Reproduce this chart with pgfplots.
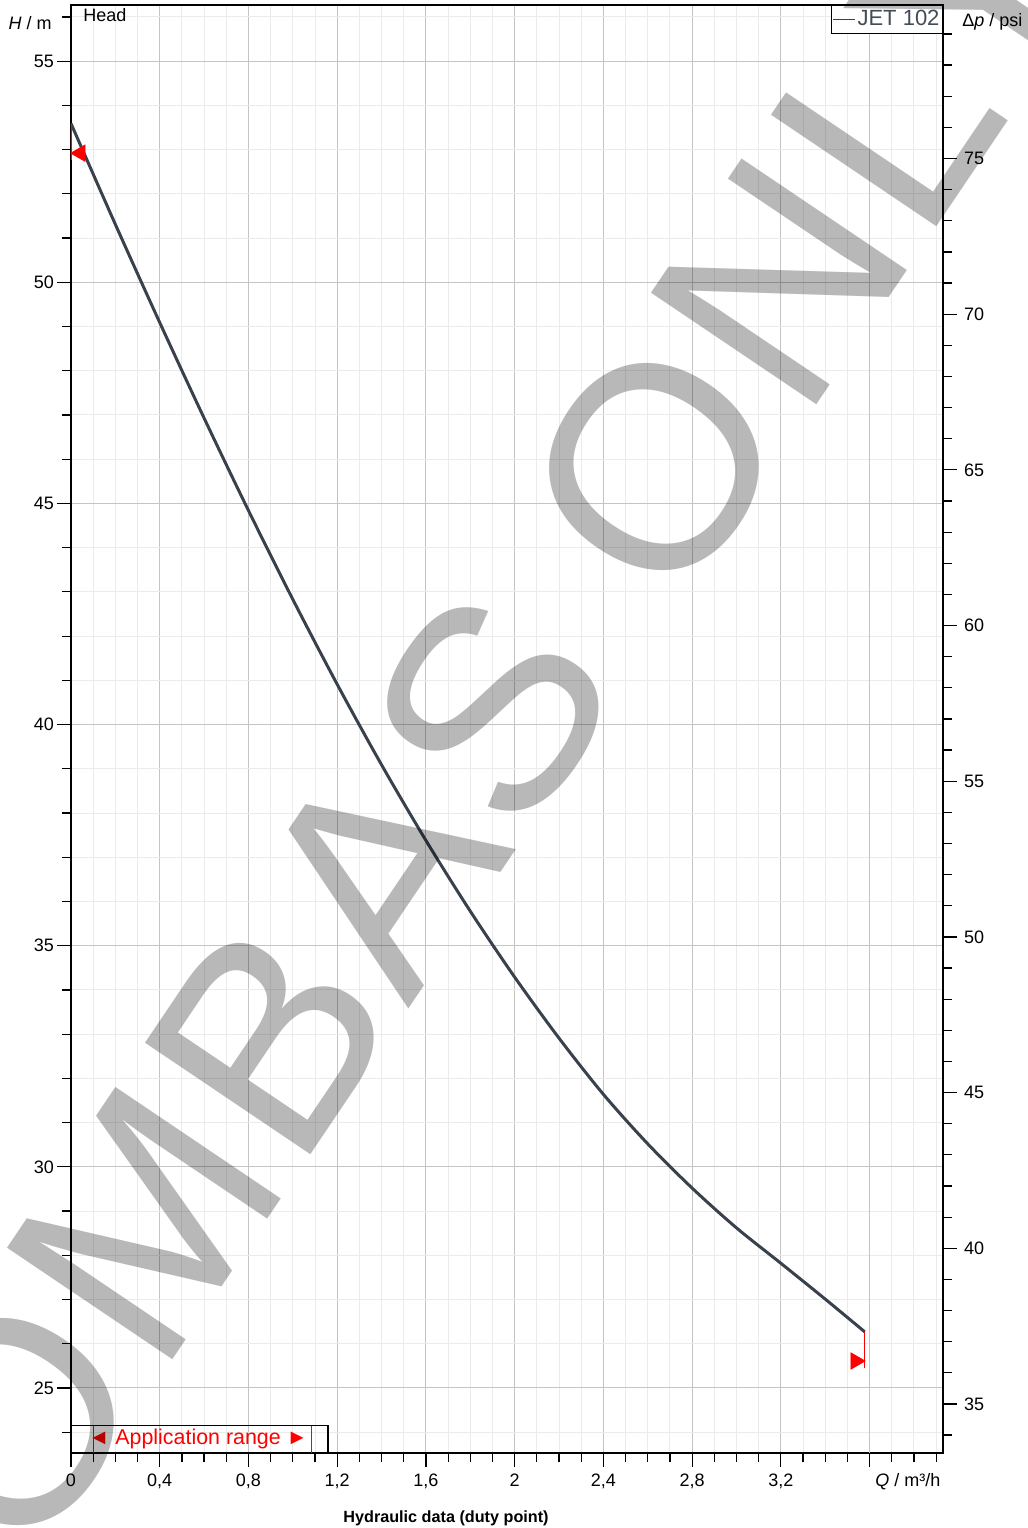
\documentclass[border=0pt]{standalone}
\usepackage{pgfplots}
\pgfplotsset{compat=1.18}
\usepackage{fontspec}
\setmainfont{Liberation Sans}
\newfontfamily\wmfont[LetterSpace=2]{Liberation Sans}
\definecolor{curve}{HTML}{39424C}
\definecolor{legtext}{HTML}{434C56}
\definecolor{majgrid}{HTML}{C4C4C4}
\definecolor{mingrid}{HTML}{EBEBEB}
\newcommand\sm{\fontsize{9}{10.8}\selectfont}
\newcommand\wm{\wmfont\fontsize{145}{145}\selectfont}

% pump curve H(Q)
\pgfplotstableread{
Q      H
0      53.59
0.2    51.31
0.4    49.09
0.6    46.93
0.8    44.84
1.0    42.83
1.2    40.91
1.4    39.09
1.6    37.38
1.8    35.78
2.0    34.29
2.2    32.91
2.4    31.64
2.6    30.52
2.8    29.52
3.0    28.62
3.2    27.82
3.4    27.01
3.578  26.27
}\jet

\begin{document}
\begin{tikzpicture}
\path[use as bounding box] (-35.5pt,-37.5pt) rectangle (478.5pt,726.5pt);

\pgfplotsset{every axis/.append style={
  scale only axis, width=436pt, height=724pt, at={(0pt,0pt)}, anchor=south west,
  xmin=0, xmax=3.931,
  tick align=outside, major tick length=7pt, minor tick length=4.5pt,
  tick style={black, line width=0.6pt},
  ticklabel style={font=\sm},
  /pgf/number format/assume math mode=true,
  /pgf/number format/use comma,
}}

\begin{axis}[
  ymin=23.53, ymax=56.27,
  axis line style={black, line width=0.75pt},
  xtick={0,0.4,0.8,1.2,1.6,2,2.4,2.8,3.2},
  extra x ticks={3.6}, extra x tick labels={},
  extra x tick style={grid=major},
  minor xtick={0,0.1,...,3.95},
  ytick={25,30,...,55},
  minor ytick={24,25,...,56},
  yticklabel style={xshift=2pt},
  xtick pos=bottom, ytick pos=left,
  grid=both,
  major grid style={majgrid, line width=0.5pt},
  minor grid style={mingrid, line width=0.5pt},
  legend style={at={(1,1)}, anchor=north east, draw=black, line width=0.5pt,
    font=\fontsize{11}{12}\selectfont, text=legtext,
    inner xsep=0.5pt, inner ysep=0.5pt, nodes={inner xsep=1pt}},
  legend cell align=left,
  legend image code/.code={\draw[curve, line width=0.75pt] (1.5pt,0pt) -- (12.5pt,0pt);},
]
\addplot[curve, line width=1.5pt, smooth] table[x=Q, y=H] {\jet};
\addlegendentry{JET 102}

% end-of-range markers
\addplot[red, line width=0.6pt, forget plot] coordinates {(0,53.57) (0,52.76)};
\addplot[red, line width=0.6pt, forget plot] coordinates {(3.578,26.27) (3.578,25.45)};
\addplot[red, only marks, mark=triangle*, mark size=4.7pt, forget plot,
  mark options={rotate=90, fill=red, draw=none}] coordinates {(0.042,52.92)};
\addplot[red, only marks, mark=triangle*, mark size=4.7pt, forget plot,
  mark options={rotate=-90, fill=red, draw=none}] coordinates {(3.537,25.61)};

% application range box
\draw[black, line width=0.6pt] (axis cs:0,23.53) rectangle (axis cs:1.159,24.15);
\draw[red, line width=0.4pt] (axis cs:0.099,23.53) -- (axis cs:0.099,24.15);
\draw[red, line width=0.4pt] (axis cs:1.082,23.53) -- (axis cs:1.082,24.15);
\node[red, font=\fontsize{10.7}{12}\selectfont] at (axis cs:0.573,23.85) {◄ Application range ►};
\end{axis}

\begin{axis}[
  ymin=33.425, ymax=79.93,
  axis x line=none, axis y line*=right,
  axis line style={black, line width=0.75pt},
  ytick={35,40,...,75},
  minor ytick={34,35,...,79},
]
\end{axis}

% texts around the axis
\node[anchor=west, inner sep=0pt, font=\sm] at (6pt,719pt) {Head};
\node[anchor=east, inner sep=0pt, font=\sm] at (-9.5pt,715pt) {\textit{H} / m};
\node[anchor=west, inner sep=0pt, font=\sm] at (445.5pt,715.5pt) {Δ\textit{p} / psi};
\node[anchor=west, inner sep=0pt, font=\sm] at (402pt,-14.5pt) {\textit{Q} / m³/h};
\node[font=\fontsize{8.1}{10}\selectfont\bfseries] at (187.5pt,-32.5pt) {Hydraulic data (duty point)};

% watermark
\node[rotate=56, anchor=base west, inner sep=0, font=\wm, text=black, opacity=0.28]
  at (301.4pt,418pt) {ONLY};
\node[rotate=56, anchor=base east, inner sep=0, font=\wm, text=black, opacity=0.28]
  at (301.4pt,418pt) {OMBAS\kern.278em};
\end{tikzpicture}
\end{document}
